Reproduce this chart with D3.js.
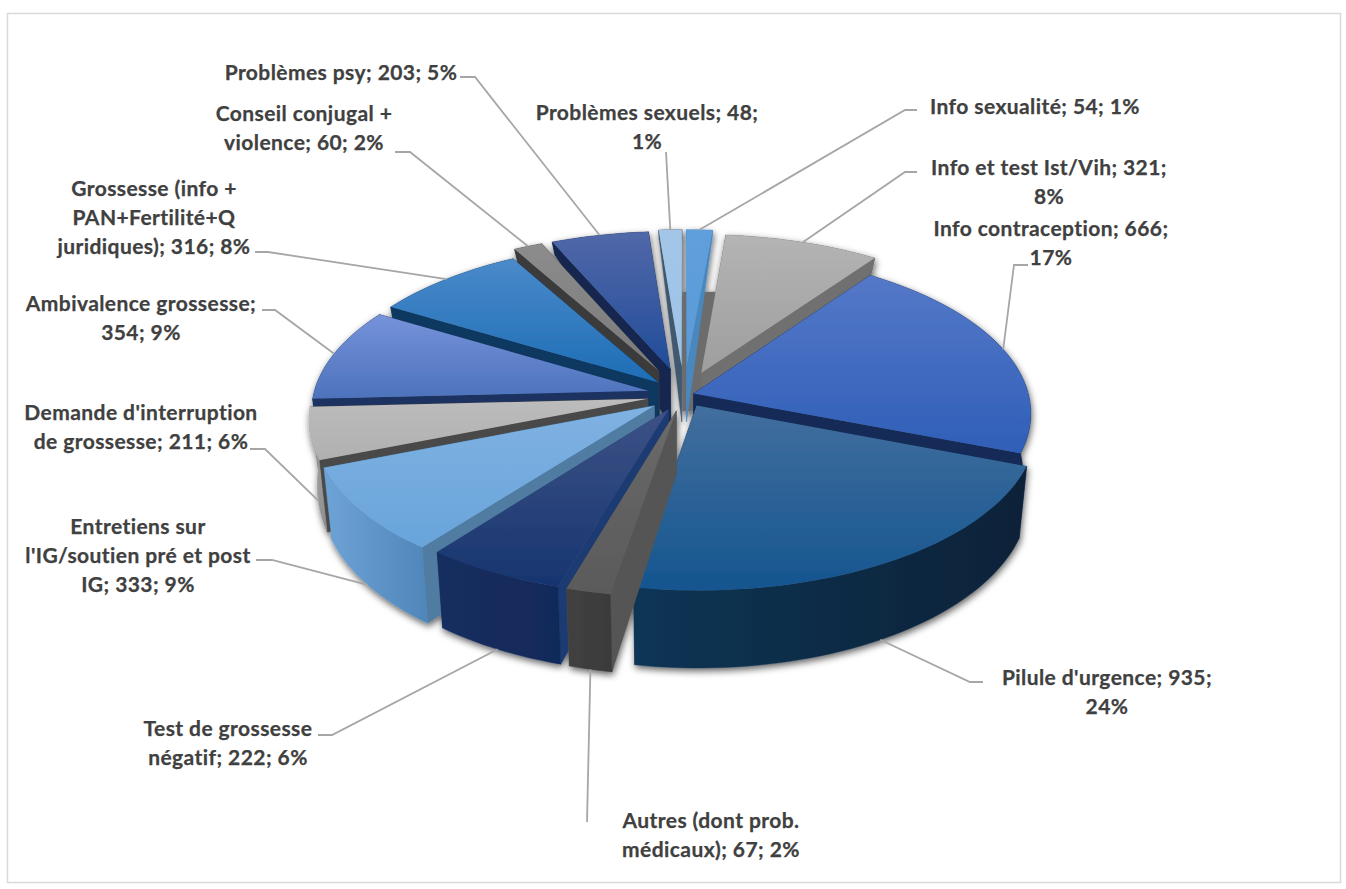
<!DOCTYPE html>
<html><head><meta charset="utf-8">
<style>html,body{margin:0;padding:0;background:#fff}svg{display:block}</style>
<script src="https://cdn.jsdelivr.net/npm/d3@7"></script></head><body>
<script>
// ---- data (clockwise from 12 o'clock)
const categories = ["Info sexualité","Info et test Ist/Vih","Info contraception","Pilule d'urgence","Autres (dont prob. médicaux)","Test de grossesse négatif","Entretiens sur l'IG/soutien pré et post IG","Demande d'interruption de grossesse","Ambivalence grossesse","Grossesse (info + PAN+Fertilité+Q juridiques)","Conseil conjugal + violence","Problèmes psy","Problèmes sexuels"];
const counts   = [54,321,666,935,67,222,333,211,354,316,60,203,48];
const percents = [1,8,17,24,2,6,9,6,9,8,2,5,1];
const labelLines = [
 ["Info sexualité; 54; 1%"],
 ["Info et test Ist/Vih; 321;","8%"],
 ["Info contraception; 666;","17%"],
 ["Pilule d'urgence; 935;","24%"],
 ["Autres (dont prob.","médicaux); 67; 2%"],
 ["Test de grossesse","négatif; 222; 6%"],
 ["Entretiens sur","l'IG/soutien pré et post","IG; 333; 9%"],
 ["Demande d'interruption","de grossesse; 211; 6%"],
 ["Ambivalence grossesse;","354; 9%"],
 ["Grossesse (info +","PAN+Fertilité+Q","juridiques); 316; 8%"],
 ["Conseil conjugal +","violence; 60; 2%"],
 ["Problèmes psy; 203; 5%"],
 ["Problèmes sexuels; 48;","1%"]];

// ---- styles, one per slice
const explode = [.18,.15,.03,.075,.10,.10,.11,.11,.11,.11,.17,.17,.18];
const topA = ["#5f9fdb","#b4b4b4","#5578c8","#426f9e","#6a6a6a","#3d5286","#80b2e2","#bcbcbc","#7593da","#4a8aca","#8c8c8c","#5168a8","#a3c6e8"];
const topB = ["#5a9ad6","#9e9e9e","#2f5fb8","#15558f","#5a5a5a","#17356f","#68a4da","#b0b0b0","#4d72bc","#1d6db6","#7a7a7a","#214c9a","#9dc3e6"];
const cutC = ["#4a88bf","#707070","#142c58","#102e58","#555555","#1c3a72","#4f7ba0","#4a4a4a","#1f3360","#10375f","#3a3a3a","#12284f","#42596e"];
const outA = ["#4a88bf","#707070","#142c58","#103555","#414141","#152e5e","#6ea3d6","#a8a8a8","#1f3360","#10375f","#3a3a3a","#12284f","#42596e"];
const outB = ["#4a88bf","#707070","#12284f","#0b2238","#3a3a3a","#11295a","#4f86ba","#8c8c8c","#1f3360","#10375f","#3a3a3a","#12284f","#42596e"];
// label anchor (centre x, first baseline) and leader elbow, one per slice
const labelX = [1035,1049,1051,1107,711,228,138,141,141,154,304,341,647];
const labelY = [114,175,236,685,828,736,534,420,311,196,121,80,120];
const leaderFrom = [[917,110,905,110],[917,172,905,172],[1028,265,1014,265],[983,682,970,682],[587,822,587,822],[318,735,332,735],[256,560,272,560],[250,449,265,449],[262,310,275,310],[255,252,268,252],[395,152,410,152],[460,77,475,77],[666,152,666,152]];

const W=1346,H=889, cx=684, cy=395, R=335, Q=160, K=.12;
const project=(X,Y)=>{const w=1-K*Y;return [cx+R*X/w, cy+Q*Y/w];};
const wallH=d3.scaleLinear().domain([228,255,367,460,600]).range([9,17,55,72,78]).clamp(true);
const drop=([x,y])=>{return [x+(cx-x)*.022, y+wallH(y)];};
// perspective distortion of the drawn angles (degrees in, degrees out)
const warp=d3.scaleLinear().domain([0,35.6,98.9,187.8,194.2,215.3,246.7,266.7,360]).range([0,35.6,111,189.8,196.6,218,248.5,267,360]);
const rad=a=>warp(a*180/Math.PI)*Math.PI/180;

const svg=d3.select("body").append("svg").attr("width",W).attr("height",H);
const defs=svg.append("defs");
const f=defs.append("filter").attr("id","sh").attr("x","-10%").attr("y","-10%").attr("width","120%").attr("height","125%");
f.append("feDropShadow").attr("dx",1).attr("dy",3).attr("stdDeviation",3.5).attr("flood-color","#000").attr("flood-opacity",.62);
const grad=(id,a,b,x2,y2)=>{const g=defs.append("linearGradient").attr("id",id).attr("x1",0).attr("y1",0).attr("x2",x2).attr("y2",y2);
 g.append("stop").attr("offset",0).attr("stop-color",a);g.append("stop").attr("offset",1).attr("stop-color",b);};
svg.append("rect").attr("x",7.5).attr("y",13.5).attr("width",1333).attr("height",869).attr("fill","#fff").attr("stroke","#d9d9d9").attr("stroke-width",1.5);

const pie=d3.pie().sort(null).value(d=>d).startAngle(0).endAngle(2*Math.PI);
const line=d3.line();
const arcs=pie(counts).map((d,i)=>{
  const e=explode[i], a0=rad(d.startAngle), a1=rad(d.endAngle), mid=(a0+a1)/2;
  const ox=e*Math.sin(mid), oy=-e*Math.cos(mid);
  const pt=a=>project(ox+Math.sin(a), oy-Math.cos(a));
  const n=Math.max(4,Math.ceil((a1-a0)/.03));
  const rim=d3.range(n+1).map(k=>pt(a0+(a1-a0)*k/n));
  return {i,mid,apex:project(ox,oy),rim,midPt:pt(mid),depth:-Math.cos(mid)+oy};
});
arcs.forEach(a=>{
  grad("t"+a.i,topA[a.i],topB[a.i],0,1);
  grad("o"+a.i,outA[a.i],outB[a.i],1,0);
});
const g=svg.append("g").attr("filter","url(#sh)");
// inner wall of the pie's hollow centre, seen through the gap between the two top slices
g.append("path").attr("fill","#6c6c6c")
 .attr("d",line([[-.005,-.7],[.1,-.7],[.1,.1],[-.005,.1]].map(p=>project(p[0],p[1])))+"Z");
const ordered=arcs.slice().sort((p,q)=>p.depth-q.depth);
ordered.forEach(a=>{
  const s=g.append("g");
  const first=a.rim[0], last=a.rim[a.rim.length-1];
  const walls=[
   {pts:[a.apex,first,drop(first),drop(a.apex)],fill:cutC[a.i]},
   {pts:[a.apex,last,drop(last),drop(a.apex)],fill:cutC[a.i]},
   {pts:[...a.rim,...a.rim.slice().reverse().map(drop)],fill:`url(#o${a.i})`}
  ];
  const meanY=ps=>d3.mean(ps,p=>p[1]);
  walls.sort((u,v)=>meanY(u.pts)-meanY(v.pts)).forEach(w=>
    s.append("path").attr("d",line(w.pts)+"Z").attr("fill",w.fill).attr("stroke",w.fill).attr("stroke-width",.4));
  s.append("path").attr("d",line([a.apex,...a.rim])+"Z").attr("fill",`url(#t${a.i})`);
});

// leaders
const lg=svg.append("g").attr("fill","none").attr("stroke","#a6a6a6").attr("stroke-width",1.8);
arcs.forEach(a=>{
  const L=leaderFrom[a.i];
  const end= -Math.cos(a.mid)>.15 ? drop(a.midPt) : a.midPt;
  lg.append("path").attr("d",line([[L[0],L[1]],[L[2],L[3]],end]));
});
// labels
const tg=svg.append("g").attr("font-family","Lato, sans-serif").attr("font-weight",700).attr("font-size",21).attr("letter-spacing",.42).attr("fill","#404040").attr("stroke","#404040").attr("stroke-width",.25).attr("text-anchor","middle");
labelLines.forEach((ls,i)=>ls.forEach((t,j)=>tg.append("text").attr("x",labelX[i]).attr("y",labelY[i]+j*29).text(t)));
</script></body></html>
